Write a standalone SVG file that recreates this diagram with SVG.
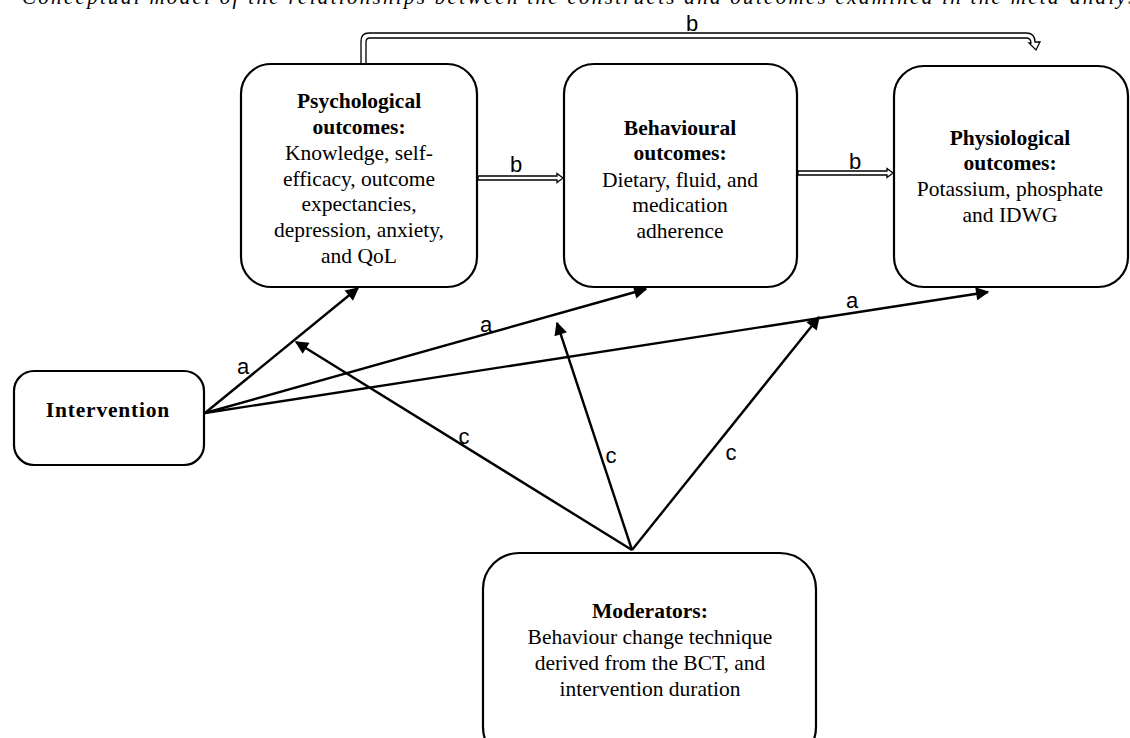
<svg xmlns="http://www.w3.org/2000/svg" width="1130" height="738" viewBox="0 0 1130 738">
<defs>
<style>
.box{fill:#fff;stroke:#000;stroke-width:2.2}
.t{font-family:"Liberation Serif",serif;font-size:21.5px;fill:#000;text-anchor:middle}
.b{font-weight:bold}
.lbl{font-family:"Liberation Sans",Arial,sans-serif;font-size:22px;fill:#000;text-anchor:middle}
.ln{stroke:#000;stroke-width:2.4;fill:none;marker-end:url(#ah)}
.dbl{fill:#fff;stroke:#000;stroke-width:1.3;stroke-linejoin:miter}
.title{font-family:"Liberation Serif",serif;font-style:italic;font-size:21px;fill:#000}
</style>
<marker id="ah" viewBox="0 0 10 10" refX="9" refY="5" markerWidth="6" markerHeight="5.5" markerUnits="strokeWidth" orient="auto">
<path d="M0,0 L10,5 L0,10 Z" fill="#000"/>
</marker>
</defs>
<rect width="1130" height="738" fill="#fff"/>
<text class="title" x="22" y="4" textLength="1133" lengthAdjust="spacing">Conceptual model of the relationships between the constructs and outcomes examined in the meta-analysis</text>

<g id="connectors">
<path class="ln" d="M205,413 L358,288"/>
<path class="ln" d="M205,413 L646,289"/>
<path class="ln" d="M205,413 L988,292"/>
<path class="ln" d="M632,550 L296,342"/>
<path class="ln" d="M632,550 L557,323"/>
<path class="ln" d="M632,550 L819,317"/>
<path class="dbl" d="M478,176 L557,176 L557,173.5 L563,178 L557,182.5 L557,180 L478,180 Z"/>
<path class="dbl" d="M798,171 L887,171 L887,168.5 L893,173 L887,177.5 L887,175 L798,175 Z"/>
<path class="dbl" d="M361,64 L361,41 Q361,33 369,33 L1026,33 Q1035,33 1035,42 L1040,42 L1036,50 L1029,43 L1031,43 Q1031,38 1026,38 L370,38 Q366,38 366,42 L366,64 Z"/>
<text class="lbl" x="243" y="374">a</text>
<text class="lbl" x="486" y="332">a</text>
<text class="lbl" x="852" y="308">a</text>
<text class="lbl" x="464" y="444">c</text>
<text class="lbl" x="611" y="463">c</text>
<text class="lbl" x="731" y="460">c</text>
<text class="lbl" x="516" y="172">b</text>
<text class="lbl" x="855" y="169">b</text>
<text class="lbl" x="692" y="31">b</text>
</g>

<g id="psychological">
<rect class="box" x="241" y="64" width="236" height="223" rx="30"/>
<text class="t b" x="359" y="108">Psychological</text>
<text class="t b" x="359" y="134">outcomes:</text>
<text class="t" x="359" y="160">Knowledge, self-</text>
<text class="t" x="359" y="186">efficacy, outcome</text>
<text class="t" x="359" y="211">expectancies,</text>
<text class="t" x="359" y="237">depression, anxiety,</text>
<text class="t" x="359" y="263">and QoL</text>
</g>

<g id="behavioural">
<rect class="box" x="564" y="64" width="233" height="223" rx="30"/>
<text class="t b" x="680" y="135">Behavioural</text>
<text class="t b" x="680" y="160">outcomes:</text>
<text class="t" x="680" y="187">Dietary, fluid, and</text>
<text class="t" x="680" y="212">medication</text>
<text class="t" x="680" y="238">adherence</text>
</g>

<g id="physiological">
<rect class="box" x="894" y="66" width="234" height="221" rx="30"/>
<text class="t b" x="1010" y="145">Physiological</text>
<text class="t b" x="1010" y="170">outcomes:</text>
<text class="t" x="1010" y="196">Potassium, phosphate</text>
<text class="t" x="1010" y="222">and IDWG</text>
</g>

<g id="intervention">
<rect class="box" x="14" y="371" width="190" height="94" rx="20"/>
<text class="t b" x="108" y="417" style="letter-spacing:0.8px">Intervention</text>
</g>

<g id="moderators">
<rect class="box" x="483" y="553" width="333" height="210" rx="36"/>
<text class="t b" x="650" y="618">Moderators:</text>
<text class="t" x="650" y="644">Behaviour change technique</text>
<text class="t" x="650" y="670">derived from the BCT, and</text>
<text class="t" x="650" y="696">intervention duration</text>
</g>
</svg>
